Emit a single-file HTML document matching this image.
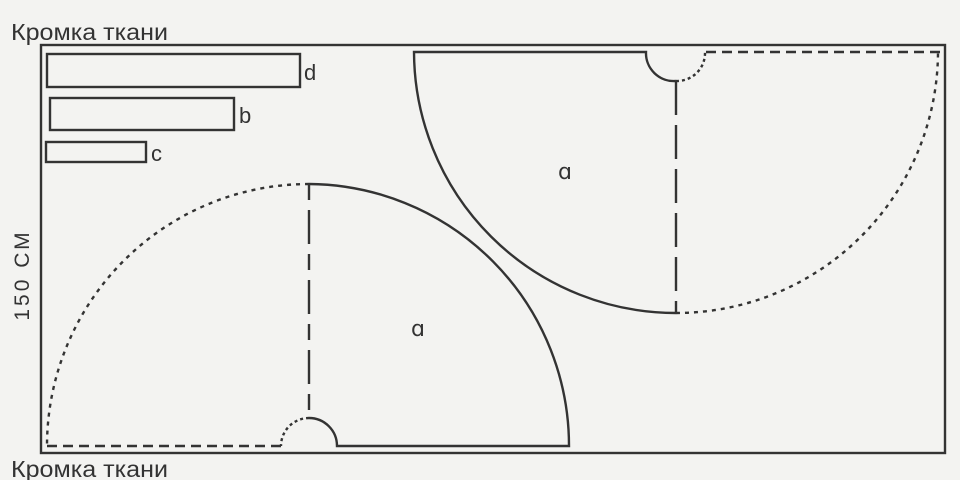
<!DOCTYPE html>
<html><head><meta charset="utf-8"><style>
html,body{margin:0;padding:0;background:#f3f3f1;}
svg{display:block}
</style></head><body>
<svg width="960" height="480" viewBox="0 0 960 480" xmlns="http://www.w3.org/2000/svg">
<rect width="960" height="480" fill="#f3f3f1"/>
<g fill="none" stroke="#333" stroke-width="2.4">
<rect x="41" y="45" width="904" height="408"/>
<rect x="47" y="54" width="253" height="33"/>
<rect x="50" y="98" width="184" height="32"/>
<rect x="46" y="142" width="100" height="20"/>
<path d="M309 184 A262 262 0 0 1 569 446 L337 446 A28 28 0 0 0 309 418"/>
<path d="M309 184 L309 418" stroke-dasharray="16 10 34 10"/>
<path d="M309 184 A262 262 0 0 0 47 446" stroke-dasharray="4 5"/>
<path d="M309 418 A28 28 0 0 0 281 446" stroke-dasharray="3 3"/>
<path d="M281 446 L47 446" stroke-dasharray="10 6"/>
<path d="M676 313 A262 262 0 0 1 414 52 L646 52 A28 28 0 0 0 676 81"/>
<path d="M676 81 L676 313" stroke-dasharray="34 10"/>
<path d="M676 313 A262 262 0 0 0 938 52" stroke-dasharray="4 5"/>
<path d="M676 81 A28 28 0 0 0 705 52" stroke-dasharray="3 3"/>
<path d="M706 52 L940 52" stroke-dasharray="10 6"/>
</g>
<g font-family="Liberation Sans, sans-serif" fill="#333">
<text x="11" y="40" font-size="23" textLength="157" lengthAdjust="spacingAndGlyphs">Кромка ткани</text>
<text x="11" y="477" font-size="23" textLength="157" lengthAdjust="spacingAndGlyphs">Кромка ткани</text>
<text x="304" y="80" font-size="22">d</text>
<text x="239" y="123" font-size="22">b</text>
<text x="151" y="161" font-size="22">c</text>
<text x="558" y="179" font-size="22" font-family="DejaVu Sans, sans-serif">ɑ</text>
<text x="411" y="336" font-size="22" font-family="DejaVu Sans, sans-serif">ɑ</text>
<text transform="translate(29 275) rotate(-90)" text-anchor="middle" font-size="21" letter-spacing="3">150 СМ</text>
</g>
</svg>
</body></html>
